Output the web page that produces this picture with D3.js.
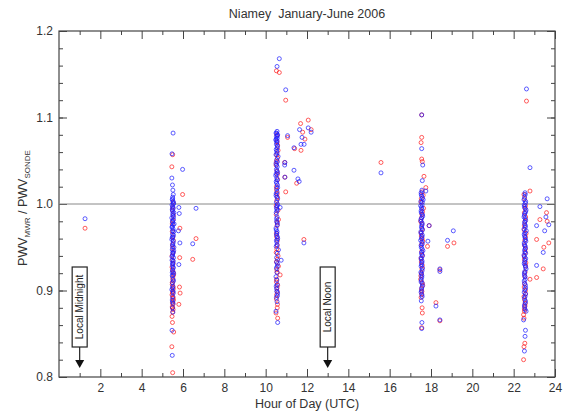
<!DOCTYPE html>
<html>
<head>
<meta charset="utf-8">
<script src="https://cdn.jsdelivr.net/npm/d3@7"></script>
<style>
  body { margin: 0; background: #fff; }
  svg { display: block; font-family: "Liberation Sans", Arial, sans-serif; }
</style>
</head>
<body>
<svg width="563" height="412"></svg>
<script>
// наблюдения: [час UTC, PWV_MWR / PWV_SONDE]
const redObs = [
  [1.26,0.972],
  [5.50,1.057],[5.46,1.043],[5.98,1.011],[5.52,1.002],[5.49,0.993],[5.85,0.972],[5.51,0.981],[5.48,0.968],
  [6.63,0.960],[5.53,0.958],[5.50,0.949],[6.47,0.936],[5.47,0.940],[5.84,0.938],[5.52,0.931],[5.49,0.924],
  [5.55,0.918],[5.51,0.912],[5.48,0.907],[5.83,0.904],[5.53,0.902],[5.50,0.899],[5.86,0.897],[5.47,0.895],
  [5.52,0.892],[5.54,0.889],[5.49,0.886],[5.51,0.884],[5.80,0.884],[5.48,0.881],[5.52,0.878],[5.50,0.875],
  [5.47,0.870],[5.49,0.863],[5.55,0.852],[5.46,0.835],[5.50,0.805],
  [5.50,0.996],[5.53,0.987],[5.48,0.977],[5.51,0.962],[5.49,0.953],[5.52,0.944],[5.50,0.935],[5.47,0.927],
  [5.53,0.921],[5.50,0.915],[5.48,0.909],[5.52,0.904],[5.49,0.897],[5.51,0.891],[5.50,0.880],
  [10.52,1.154],[10.66,1.152],[10.97,1.120],[12.06,1.097],[11.69,1.093],[12.20,1.086],[11.79,1.083],
  [11.06,1.077],[11.90,1.075],[10.55,1.072],[11.40,1.064],[11.71,1.062],[10.60,1.062],[10.53,1.057],
  [10.92,1.048],[10.57,1.053],[10.50,1.045],[10.93,1.031],[10.55,1.038],[11.50,1.024],[10.58,1.028],
  [10.52,1.020],[10.97,1.014],[10.56,1.012],[10.54,1.004],[10.60,0.993],[10.51,0.988],[10.62,0.982],
  [10.55,0.975],[10.52,0.966],[11.85,0.959],[10.57,0.958],[10.54,0.948],[10.60,0.940],[10.52,0.933],
  [10.62,0.928],[10.55,0.921],[10.70,0.918],[10.53,0.913],[10.58,0.906],[10.56,0.899],[10.52,0.890],
  [10.57,0.884],[10.50,0.874],[10.58,0.868],
  [10.54,1.080],[10.58,1.068],[10.52,1.049],[10.56,1.034],[10.53,1.016],[10.57,1.008],[10.51,0.998],
  [10.55,0.979],[10.53,0.962],[10.56,0.952],[10.51,0.944],[10.57,0.936],[10.54,0.924],[10.52,0.910],
  [10.55,0.903],[10.53,0.895],[10.56,0.880],
  [15.58,1.048],
  [17.55,1.103],[17.55,1.077],[17.52,1.071],[17.55,1.052],[17.58,1.049],[17.66,1.032],[17.75,1.019],
  [17.62,1.010],[17.53,1.006],[17.64,0.995],[17.56,0.988],[17.50,0.980],[17.91,0.975],[17.58,0.971],
  [17.53,0.963],[17.60,0.957],[19.11,0.955],[17.83,0.951],[18.80,0.951],[17.55,0.945],[17.52,0.937],
  [17.58,0.929],[18.43,0.924],[17.54,0.920],[17.50,0.913],[17.60,0.906],[17.56,0.899],[17.52,0.892],
  [18.24,0.886],[17.57,0.880],[17.58,0.874],[18.43,0.865],[17.55,0.857],
  [17.57,1.014],[17.52,1.002],[17.59,0.991],[17.54,0.984],[17.56,0.977],[17.52,0.967],[17.57,0.960],
  [17.54,0.953],[17.58,0.941],[17.53,0.933],[17.56,0.925],[17.51,0.917],[17.57,0.909],[17.54,0.902],
  [17.55,0.896],
  [22.62,1.119],[22.79,1.015],[22.50,1.011],[23.59,0.990],[22.55,0.995],[22.58,0.985],[23.27,0.982],
  [23.62,0.980],[22.52,0.975],[22.60,0.966],[23.11,0.959],[22.54,0.958],[23.70,0.955],[23.46,0.950],
  [22.57,0.948],[22.51,0.940],[22.59,0.932],[23.43,0.925],[22.55,0.921],[23.11,0.915],[22.79,0.913],
  [22.53,0.908],[22.57,0.900],[22.50,0.893],[22.56,0.885],[22.52,0.879],[22.48,0.872],[22.50,0.868],
  [22.54,0.839],[22.50,0.835],[22.48,0.820],
  [22.53,1.006],[22.57,0.998],[22.52,0.990],[22.55,0.980],[22.51,0.970],[22.57,0.962],[22.53,0.952],
  [22.56,0.944],[22.52,0.936],[22.58,0.928],[22.54,0.916],[22.51,0.904],[22.57,0.896],[22.53,0.889],
  [22.55,0.882],[22.52,0.876]
];

const blueObs = [
  [1.26,0.983],
  [5.52,1.082],[5.47,1.058],[5.98,1.040],[5.46,1.030],[5.49,1.022],[5.51,1.016],[5.53,1.011],[5.50,1.008],
  [5.48,1.005],[5.52,1.003],[5.55,1.001],[5.47,0.999],[5.50,0.997],[5.53,0.995],[5.80,0.996],[6.63,0.995],
  [5.49,0.992],[5.56,0.990],[5.82,0.989],[5.51,0.987],[5.46,0.984],[5.54,0.982],[5.50,0.979],[5.57,0.977],
  [5.48,0.974],[5.52,0.971],[5.78,0.969],[5.55,0.968],[5.49,0.965],[5.51,0.962],[5.46,0.959],[5.53,0.957],
  [6.47,0.954],[5.50,0.953],[5.56,0.950],[5.85,0.955],[5.48,0.947],[5.52,0.944],[5.50,0.941],[5.54,0.938],
  [5.47,0.935],[5.51,0.932],[5.49,0.929],[5.53,0.926],[5.80,0.930],[5.50,0.923],[5.55,0.920],[5.48,0.917],
  [5.52,0.913],[5.49,0.909],[5.51,0.905],[5.46,0.901],[5.53,0.897],[5.50,0.893],[5.48,0.889],[5.52,0.885],
  [5.49,0.880],[5.51,0.875],[5.47,0.854],[5.48,0.825],
  [5.50,1.006],[5.53,1.000],[5.48,0.994],[5.51,0.989],[5.54,0.985],[5.49,0.980],[5.52,0.976],[5.47,0.973],
  [5.50,0.969],[5.54,0.964],[5.48,0.961],[5.52,0.955],[5.49,0.951],[5.55,0.946],[5.51,0.943],[5.47,0.939],
  [5.53,0.934],[5.50,0.931],[5.52,0.927],[5.48,0.921],[5.51,0.918],[5.54,0.911],[5.49,0.903],[5.52,0.899],
  [5.50,0.887],
  [10.66,1.168],[10.55,1.159],[10.97,1.132],[10.55,1.084],[10.50,1.082],[10.58,1.080],[10.52,1.078],
  [10.56,1.076],[10.49,1.074],[10.54,1.071],[11.06,1.079],[11.64,1.086],[12.06,1.088],[12.20,1.083],
  [11.76,1.077],[11.71,1.069],[11.86,1.069],[11.37,1.065],[10.57,1.067],[10.51,1.063],[10.55,1.059],
  [10.60,1.055],[10.53,1.051],[10.93,1.048],[10.92,1.045],[10.50,1.047],[10.56,1.043],[10.52,1.040],
  [11.37,1.039],[10.58,1.036],[10.49,1.033],[10.54,1.030],[10.93,1.031],[11.56,1.029],[11.62,1.026],
  [10.51,1.026],[10.57,1.022],[10.53,1.018],[10.55,1.014],[10.50,1.010],[10.58,1.006],[10.52,1.002],
  [10.56,0.998],[10.54,0.994],[10.70,0.996],[10.51,0.990],[10.55,0.985],[10.53,0.980],[10.57,0.976],
  [10.50,0.972],[10.55,0.968],[10.52,0.964],[10.58,0.960],[11.85,0.955],[10.54,0.956],[10.51,0.951],
  [10.62,0.947],[10.56,0.943],[10.53,0.938],[10.75,0.935],[10.57,0.931],[10.52,0.926],[10.55,0.921],
  [10.50,0.916],[10.54,0.912],[10.56,0.907],[10.53,0.902],[10.58,0.897],[10.52,0.892],[10.55,0.887],
  [10.50,0.876],[10.58,0.863],
  [10.53,1.082],[10.57,1.079],[10.51,1.075],[10.55,1.073],[10.52,1.069],[10.56,1.065],[10.54,1.061],
  [10.50,1.057],[10.57,1.049],[10.53,1.045],[10.55,1.038],[10.51,1.035],[10.56,1.028],[10.53,1.024],
  [10.58,1.019],[10.51,1.012],[10.54,1.008],[10.57,1.000],[10.52,0.996],[10.55,0.992],[10.53,0.983],
  [10.56,0.978],[10.51,0.970],[10.54,0.966],[10.57,0.962],[10.52,0.958],[10.55,0.953],[10.53,0.933],
  [10.56,0.928],[10.51,0.905],[10.54,0.899],[10.57,0.894],
  [15.58,1.036],
  [17.55,1.103],[17.55,1.064],[17.60,1.045],[17.58,1.027],[17.75,1.015],[17.62,1.005],[17.52,1.013],
  [17.55,1.009],[17.58,1.002],[17.50,0.998],[17.56,0.994],[17.53,0.990],[17.60,0.986],[17.51,0.982],
  [17.57,0.978],[17.91,0.975],[17.54,0.974],[17.59,0.970],[19.08,0.969],[17.52,0.966],[17.56,0.962],
  [18.80,0.958],[17.85,0.957],[17.50,0.958],[17.58,0.954],[17.53,0.950],[17.61,0.946],[17.55,0.942],
  [17.52,0.938],[17.57,0.934],[17.54,0.930],[18.43,0.925],[18.43,0.922],[17.59,0.926],[17.51,0.921],
  [17.56,0.917],[17.53,0.912],[17.58,0.908],[17.55,0.903],[17.52,0.898],[17.57,0.893],[17.53,0.888],
  [18.24,0.882],[18.43,0.866],[17.56,0.863],[17.55,0.856],
  [17.56,1.016],[17.53,1.011],[17.59,1.007],[17.51,1.003],[17.57,0.999],[17.54,0.996],[17.52,0.992],
  [17.58,0.988],[17.55,0.984],[17.52,0.980],[17.57,0.976],[17.55,0.972],[17.51,0.968],[17.58,0.964],
  [17.54,0.960],[17.56,0.956],[17.52,0.952],[17.57,0.948],[17.54,0.944],[17.59,0.940],[17.53,0.936],
  [17.56,0.932],[17.52,0.928],[17.57,0.923],[17.54,0.919],[17.55,0.915],[17.52,0.910],[17.58,0.905],
  [17.54,0.900],[17.56,0.895],
  [22.62,1.133],[22.79,1.042],[22.55,1.013],[22.50,1.005],[23.62,1.006],[23.27,0.997],[22.57,1.001],
  [22.52,0.997],[22.60,0.993],[22.54,0.989],[23.56,0.985],[22.50,0.985],[22.58,0.981],[22.53,0.977],
  [23.70,0.976],[23.11,0.975],[22.56,0.973],[22.61,0.969],[23.50,0.969],[22.51,0.965],[22.55,0.961],
  [22.59,0.957],[22.52,0.953],[22.57,0.949],[23.43,0.944],[22.54,0.945],[22.50,0.941],[22.58,0.937],
  [22.53,0.933],[23.11,0.929],[22.56,0.929],[22.60,0.925],[22.52,0.920],[22.55,0.916],[22.51,0.911],
  [22.57,0.906],[22.54,0.901],[22.58,0.896],[22.52,0.891],[22.56,0.886],[22.53,0.881],[22.60,0.876],
  [22.48,0.866],[22.57,0.854],[22.55,0.847],[22.52,0.830],
  [22.56,1.011],[22.53,1.008],[22.58,1.003],[22.51,0.999],[22.55,0.995],[22.58,0.991],[22.52,0.987],
  [22.56,0.983],[22.53,0.979],[22.57,0.975],[22.50,0.971],[22.55,0.967],[22.53,0.963],[22.57,0.959],
  [22.51,0.955],[22.56,0.951],[22.53,0.947],[22.58,0.943],[22.52,0.939],[22.55,0.935],[22.51,0.931],
  [22.57,0.927],[22.54,0.922],[22.52,0.918],[22.56,0.913],[22.53,0.908],[22.58,0.903],[22.51,0.898],
  [22.55,0.893],[22.57,0.888],[22.52,0.883],[22.55,0.878]
];

const xTickLabels = [2, 4, 6, 8, 10, 12, 14, 16, 18, 20, 22, 24];
const yTickLabels = [0.8, 0.9, 1.0, 1.1, 1.2];
const notes = [
  {hour: 1, text: "Local Midnight"},
  {hour: 13, text: "Local Noon"}
];

const svg = d3.select("svg");
const area = {left: 59, right: 555, top: 31, bottom: 377};
const axisColor = "#444";

const x = d3.scaleLinear().domain([0, 24]).range([area.left, area.right]);
const y = d3.scaleLinear().domain([0.8, 1.2]).range([area.bottom, area.top]);

// оси: длинные засечки внутрь, короткие промежуточные
function styleAxis(g) {
  g.select(".domain").remove();
  g.selectAll(".tick line").attr("stroke", axisColor);
  g.selectAll(".tick text").attr("fill", "#333").style("font-size", "12px")
    .style("font-family", "'Liberation Sans', Arial, sans-serif");
}

const minorX = d3.range(1, 24, 2);
const minorY = d3.range(0.82, 1.2, 0.02);

svg.append("g").attr("transform", `translate(0,${area.bottom})`)
  .call(d3.axisBottom(x).tickValues(xTickLabels).tickSize(-8).tickPadding(6).tickFormat(d3.format("d")))
  .call(styleAxis);
svg.append("g").attr("transform", `translate(0,${area.bottom})`)
  .call(d3.axisBottom(x).tickValues(minorX).tickSize(-4).tickFormat(""))
  .call(styleAxis);
svg.append("g").attr("transform", `translate(0,${area.top})`)
  .call(d3.axisTop(x).tickValues(xTickLabels).tickSize(-8).tickFormat(""))
  .call(styleAxis);
svg.append("g").attr("transform", `translate(0,${area.top})`)
  .call(d3.axisTop(x).tickValues(minorX).tickSize(-4).tickFormat(""))
  .call(styleAxis);

svg.append("g").attr("transform", `translate(${area.left},0)`)
  .call(d3.axisLeft(y).tickValues(yTickLabels).tickSize(-8).tickPadding(6).tickFormat(d3.format(".1f")))
  .call(styleAxis);
svg.append("g").attr("transform", `translate(${area.left},0)`)
  .call(d3.axisLeft(y).tickValues(minorY).tickSize(-4).tickFormat(""))
  .call(styleAxis);
svg.append("g").attr("transform", `translate(${area.right},0)`)
  .call(d3.axisRight(y).tickValues(yTickLabels).tickSize(-8).tickFormat(""))
  .call(styleAxis);
svg.append("g").attr("transform", `translate(${area.right},0)`)
  .call(d3.axisRight(y).tickValues(minorY).tickSize(-4).tickFormat(""))
  .call(styleAxis);

svg.append("rect")
  .attr("x", area.left).attr("y", area.top)
  .attr("width", area.right - area.left).attr("height", area.bottom - area.top)
  .attr("fill", "none").attr("stroke", axisColor).attr("stroke-width", 1.2);

// линия отношения 1.0
svg.append("line")
  .attr("x1", area.left).attr("x2", area.right)
  .attr("y1", y(1.0)).attr("y2", y(1.0))
  .attr("stroke", "#888").attr("stroke-width", 1);

// точки
function drawObs(data, color, cls) {
  svg.selectAll("." + cls)
    .data(data)
    .enter()
    .append("circle")
    .attr("class", cls)
    .attr("cx", d => x(d[0]))
    .attr("cy", d => y(d[1]))
    .attr("r", 2)
    .attr("fill", "none")
    .attr("stroke", color)
    .attr("stroke-width", 1)
    .attr("stroke-opacity", 0.7);
}
drawObs(redObs, "#ff1a1a", "obs-red");
drawObs(blueObs, "#1a1aff", "obs-blue");

// подписи "Local Midnight" / "Local Noon"
const boxTop = 267, boxBottom = 347, tipY = 368, boxW = 15;
notes.forEach(n => {
  const cx = x(n.hour);
  svg.append("rect")
    .attr("x", cx - boxW / 2).attr("y", boxTop)
    .attr("width", boxW).attr("height", boxBottom - boxTop)
    .attr("fill", "#fff").attr("stroke", "#222").attr("stroke-width", 1.2);
  svg.append("text")
    .attr("transform", `translate(${cx + 3.5},${(boxTop + boxBottom) / 2}) rotate(-90)`)
    .attr("text-anchor", "middle")
    .style("font-size", "10px")
    .attr("fill", "#222")
    .text(n.text);
  svg.append("line")
    .attr("x1", cx).attr("x2", cx)
    .attr("y1", boxBottom).attr("y2", tipY - 6)
    .attr("stroke", "#222").attr("stroke-width", 1.2);
  svg.append("path")
    .attr("d", `M${cx - 4.5},${tipY - 8} L${cx + 4.5},${tipY - 8} L${cx},${tipY} Z`)
    .attr("fill", "#111");
});

// заголовки
svg.append("text")
  .attr("x", (area.left + area.right) / 2).attr("y", 18)
  .attr("text-anchor", "middle")
  .style("font-size", "12.5px").style("white-space", "pre").attr("fill", "#333")
  .text("Niamey  January-June 2006");

svg.append("text")
  .attr("x", (area.left + area.right) / 2).attr("y", 408)
  .attr("text-anchor", "middle")
  .style("font-size", "12.5px").attr("fill", "#333")
  .text("Hour of Day (UTC)");

const yTitle = svg.append("text")
  .attr("transform", `translate(27,${(area.top + area.bottom) / 2 + 4}) rotate(-90)`)
  .attr("text-anchor", "middle")
  .style("font-size", "12.5px").attr("fill", "#333");
yTitle.append("tspan").text("PWV");
yTitle.append("tspan").attr("dy", 3).style("font-size", "8px").text("MWR");
yTitle.append("tspan").attr("dy", -3).text(" / PWV");
yTitle.append("tspan").attr("dy", 3).style("font-size", "8px").text("SONDE");
</script>
</body>
</html>
